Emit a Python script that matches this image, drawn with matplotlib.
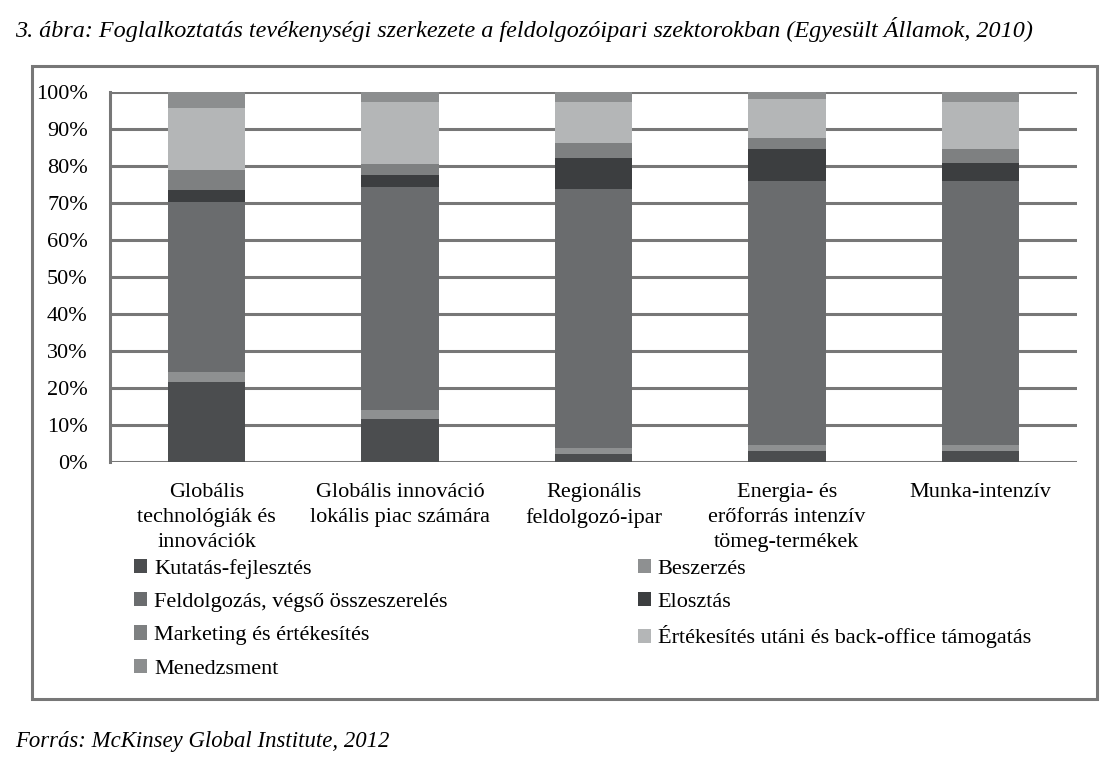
import matplotlib
matplotlib.use("Agg")
import matplotlib.pyplot as plt
from matplotlib.patches import Rectangle
import numpy as np

# --------------------------------------------
# DATA (%)
# --------------------------------------------
categories = [
    "Globális\ntechnológiák és\ninnovációk",
    "Globális innováció\nlokális piac számára",
    "Regionális\nfeldolgozó-ipar",
    "Energia- és\nerőforrás intenzív\ntömeg-termékek",
    "Munka-intenzív",
]
kutatas = [21.7, 11.6, 2.2, 3.1, 3.1]
beszerzes = [2.5, 2.5, 1.6, 1.5, 1.5]
feldolgozas = [46.2, 60.3, 70.0, 71.4, 71.4]
elosztas = [3.1, 3.2, 8.4, 8.6, 4.7]
marketing = [5.4, 2.9, 3.9, 3.0, 3.8]
ertekesites_utani = [16.7, 16.7, 11.1, 10.5, 12.7]
menedzsment = [4.4, 2.8, 2.8, 1.9, 2.8]

series_names = [
    "Kutatás-fejlesztés",
    "Beszerzés",
    "Feldolgozás, végső összeszerelés",
    "Elosztás",
    "Marketing és értékesítés",
    "Értékesítés utáni és back-office támogatás",
    "Menedzsment",
]
series_values = [kutatas, beszerzes, feldolgozas, elosztas,
                 marketing, ertekesites_utani, menedzsment]
series_colors = ["#4b4d4f", "#8e9091", "#6a6c6e", "#3c3e40",
                 "#7e8081", "#b4b6b7", "#8c8e8f"]
yticks = [0, 10, 20, 30, 40, 50, 60, 70, 80, 90, 100]

title = "3. ábra: Foglalkoztatás tevékenységi szerkezete a feldolgozóipari szektorokban (Egyesült Államok, 2010)"
source = "Forrás: McKinsey Global Institute, 2012"

plt.rcParams["font.family"] = ["Liberation Serif", "DejaVu Serif"]

W, H = 1120, 771
fig = plt.figure(figsize=(W / 100, H / 100), dpi=100)
fig.patch.set_facecolor("white")

# outer frame
fig.patches.append(Rectangle((32 / W, 1 - 699 / H), (1097 - 32) / W, (699 - 66) / H,
                             transform=fig.transFigure, fill=False,
                             edgecolor="#777777", linewidth=2.2))

ax = fig.add_axes([110 / W, 1 - 462 / H, (1077 - 110) / W, (462 - 92) / H])
x = np.arange(len(categories))
bottom = np.zeros(len(categories))
handles = []
for name, vals, col in zip(series_names, series_values, series_colors):
    bars = ax.bar(x, vals, width=0.4, bottom=bottom, color=col, label=name, zorder=3)
    bottom += np.array(vals)
    handles.append(bars)

ax.set_xlim(-0.5, len(categories) - 0.5)
ax.set_ylim(0, 100)
ax.set_yticks(yticks)
ax.set_yticklabels([f"{v}%" for v in yticks], fontsize=16)
ax.set_xticks(x)
ax.set_xticklabels(categories, fontsize=16, linespacing=1.42)
ax.tick_params(axis="both", length=0)
ax.tick_params(axis="y", pad=16)
ax.tick_params(axis="x", pad=15)
ax.grid(axis="y", color="#777777", linewidth=2.2, zorder=0)
for side in ["top", "right", "bottom"]:
    ax.spines[side].set_visible(False)
ax.spines["left"].set_color("#777777")
ax.spines["left"].set_linewidth(2.2)

# legend: row order like the reference, column-major for matplotlib
order = [0, 2, 4, 6, 1, 3, 5]
leg = fig.legend([handles[i] for i in order], [series_names[i] for i in order],
                 ncol=2, loc="upper left", bbox_to_anchor=(134 / W, 1 - 559 / H),
                 frameon=False, fontsize=16, handlelength=0.6, handleheight=0.6,
                 handletextpad=0.3, columnspacing=8.55, labelspacing=0.6,
                 borderaxespad=0, borderpad=0)

fig.text(15 / W, 1 - 30 / H, title, fontsize=17.4, style="italic", va="center", ha="left")
fig.text(15 / W, 1 - 742 / H, source, fontsize=16.4, style="italic", va="center", ha="left")

fig.savefig("out.png", dpi=100, facecolor="white")
